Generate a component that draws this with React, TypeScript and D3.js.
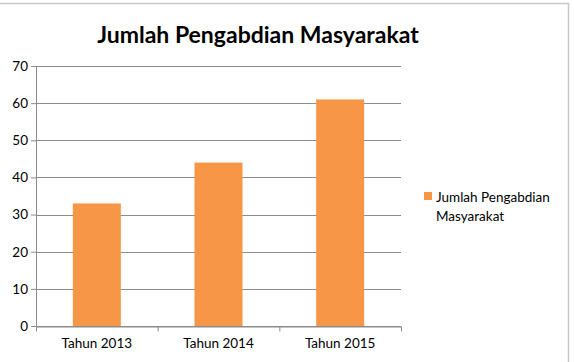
import React, { useEffect, useRef } from 'react';
import * as d3 from 'd3';

// chart data
const categories = ['Tahun 2013', 'Tahun 2014', 'Tahun 2015'];
const values = [33, 44, 61];
const yTicks = [0, 10, 20, 30, 40, 50, 60, 70];
const seriesName = 'Jumlah Pengabdian Masyarakat';
const legendLines = ['Jumlah Pengabdian', 'Masyarakat'];

const FONT = 'Lato, "Open Sans", sans-serif';
const BAR = '#F79646';
const GRID = '#8c8c8c';

const App = () => {
  const svgRef = useRef<SVGSVGElement>(null);

  useEffect(() => {
    const width = 574;
    const height = 362;
    const margin = { top: 66, right: 173, bottom: 36, left: 36 };
    const innerW = width - margin.left - margin.right;
    const innerH = height - margin.top - margin.bottom;

    const root = d3.select(svgRef.current);
    root.selectAll('*').remove();
    root.attr('width', width).attr('height', height);

    // outer chart border
    root.append('rect')
      .attr('x', -1).attr('y', 3.5)
      .attr('width', 569.5).attr('height', 360)
      .attr('fill', '#fff')
      .attr('stroke', '#c8c8c8')
      .attr('stroke-width', 1.5);

    root.append('text')
      .attr('x', 258).attr('y', 43)
      .attr('text-anchor', 'middle')
      .attr('font-family', FONT)
      .attr('font-weight', 'bold')
      .attr('font-size', 23)
      .attr('fill', '#000')
      .text(seriesName);

    const svg = root.append('g')
      .attr('transform', `translate(${margin.left},${margin.top})`);

    const x = d3.scaleBand<string>().domain(categories).range([0, innerW]);
    const y = d3.scaleLinear().domain([0, 70]).range([innerH, 0]);

    // gridlines
    svg.append('g')
      .selectAll('line')
      .data(yTicks)
      .enter()
      .append('line')
      .attr('x1', 0).attr('x2', innerW)
      .attr('y1', d => Math.round(y(d)) + 0.5)
      .attr('y2', d => Math.round(y(d)) + 0.5)
      .attr('stroke', GRID)
      .attr('stroke-width', 1);

    // y axis
    const yAxis = svg.append('g')
      .call(d3.axisLeft(y).tickValues(yTicks).tickSize(5).tickPadding(3))
      .attr('font-family', FONT)
      .attr('font-size', 13.5);
    yAxis.select('.domain').attr('stroke', GRID).attr('d', `M0.5,0V${innerH}`);
    yAxis.selectAll('.tick line').attr('stroke', GRID);
    yAxis.selectAll('text').attr('fill', '#000');

    // bars
    const barW = 48;
    svg.selectAll('.bar')
      .data(values)
      .enter()
      .append('rect')
      .attr('class', 'bar')
      .attr('x', (d, i) => (x(categories[i]) as number) + (x.bandwidth() - barW) / 2)
      .attr('y', d => y(d))
      .attr('width', barW)
      .attr('height', d => innerH - y(d))
      .attr('fill', BAR);

    // x axis
    const xAxis = svg.append('g')
      .attr('transform', `translate(0,${Math.round(innerH) + 0.5})`)
      .call(d3.axisBottom(x).tickSize(0).tickPadding(12))
      .attr('font-family', FONT)
      .attr('font-size', 13.5);
    xAxis.select('.domain').attr('stroke', GRID);
    xAxis.selectAll('text').attr('fill', '#000');
    // category boundary ticks
    xAxis.selectAll('.sep')
      .data(d3.range(categories.length + 1))
      .enter()
      .append('line')
      .attr('x1', i => i * x.step() + 0.5)
      .attr('x2', i => i * x.step() + 0.5)
      .attr('y1', 0).attr('y2', 5)
      .attr('stroke', GRID);

    // legend
    const lg = root.append('g').attr('transform', 'translate(424,192)');
    lg.append('rect').attr('width', 8).attr('height', 8).attr('fill', BAR);
    lg.selectAll('text')
      .data(legendLines)
      .enter()
      .append('text')
      .attr('x', 12)
      .attr('y', (d, i) => 9.5 + i * 19)
      .attr('font-family', FONT)
      .attr('font-size', 13.5)
      .attr('fill', '#000')
      .text(d => d);
  }, []);

  return (
    <svg ref={svgRef} style={{ position: 'absolute', left: 0, top: 0 }}></svg>
  );
};

export default App;
